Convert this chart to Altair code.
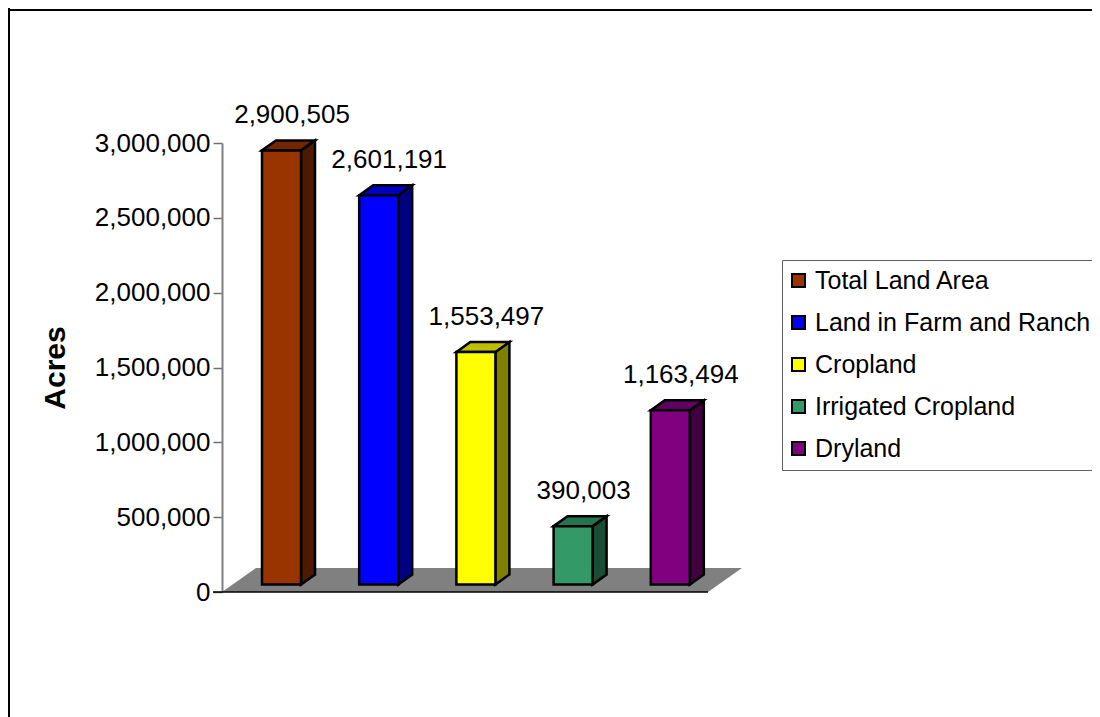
import altair as alt
import pandas as pd

categories = ["Total Land Area", "Land in Farm and Ranch", "Cropland", "Irrigated Cropland", "Dryland"]
values = [2900505, 2601191, 1553497, 390003, 1163494]
front_colors = ["#993300", "#0000FF", "#FFFF00", "#339966", "#800080"]
top_colors = ["#732600", "#0000BF", "#BFBF00", "#267350", "#600060"]
side_colors = ["#4D1A00", "#000080", "#808000", "#1A4D33", "#400040"]
tick_values = [0, 500000, 1000000, 1500000, 2000000, 2500000, 3000000]

W, H = 486, 449
Y_MAX = 3000000
SLOTS = 5
FONT = "Liberation Sans"
EDGE = 2.5
px_x = SLOTS / W          # slots per pixel
px_y = Y_MAX / H          # acres per pixel

BAR_START = 40 * px_x
BAR_W = 39 * px_x
BASE = 7.5 * px_y
DX, DY = 14 * px_x, 10 * px_y
FLOOR_DX, FLOOR_DY = 34 * px_x, 24 * px_y
LABEL_DX, LABEL_DY = 30 * px_x, 35 * px_y

xs = alt.Scale(domain=[0, SLOTS], nice=False, zero=False)
ys = alt.Scale(domain=[0, Y_MAX], nice=False)
y_axis = alt.Axis(values=tick_values, format=",.0f", grid=False, tickSize=9, title="Acres",
                  tickColor="#707070", domainColor="#808080", domainWidth=2, tickWidth=1.5,
                  labelFont=FONT, labelFontSize=26, labelColor="black", labelPadding=3,
                  titleFont=FONT, titleFontSize=30, titleFontWeight="bold", titleColor="black",
                  titlePadding=24)

front, side, top, labels = [], [], [], []
for i, (cat, v) in enumerate(zip(categories, values)):
    x0 = i + BAR_START
    x1 = x0 + BAR_W
    t = BASE + v
    front.append(dict(cat=cat, x=x0, x2=x1, y=BASE, y2=t))
    side += [
        dict(cat=cat, x=x1, y=t, y2=BASE, c=side_colors[i]),
        dict(cat=cat, x=x1 + DX, y=t + DY, y2=BASE + DY, c=side_colors[i]),
    ]
    top += [
        dict(cat=cat, x=x0, y=t, y2=t, c=top_colors[i]),
        dict(cat=cat, x=x0 + DX, y=t + DY, y2=t, c=top_colors[i]),
        dict(cat=cat, x=x1, y=t + DY, y2=t, c=top_colors[i]),
        dict(cat=cat, x=x1 + DX, y=t + DY, y2=t + DY, c=top_colors[i]),
    ]
    labels.append(dict(x=x0 + LABEL_DX, y=t + LABEL_DY, v=v))

floor = pd.DataFrame([
    dict(x=0, y=0, y2=0),
    dict(x=FLOOR_DX, y=FLOOR_DY, y2=0),
    dict(x=SLOTS, y=FLOOR_DY, y2=0),
    dict(x=SLOTS + FLOOR_DX, y=FLOOR_DY, y2=FLOOR_DY),
])
base_line = pd.DataFrame([dict(x=-9 * px_x, x2=SLOTS, y=0)])


def X():
    return alt.X("x:Q", scale=xs, axis=None)


def Y():
    return alt.Y("y:Q", scale=ys, axis=y_axis)


floor_layer = alt.Chart(floor).mark_area(fill="#808080", interpolate="linear").encode(
    X(), y=Y(), y2="y2:Q",
)
base_layer = alt.Chart(base_line).mark_rule(color="black", strokeWidth=1.5).encode(
    X(), x2="x2:Q", y=Y()
)
side_layer = alt.Chart(pd.DataFrame(side)).mark_area(stroke="black", strokeWidth=EDGE).encode(
    X(), y=Y(), y2="y2:Q", detail="cat:N",
    fill=alt.Fill("c:N", scale=None),
)
top_layer = alt.Chart(pd.DataFrame(top)).mark_area(stroke="black", strokeWidth=EDGE).encode(
    X(), y=Y(), y2="y2:Q", detail="cat:N",
    fill=alt.Fill("c:N", scale=None),
)
front_layer = alt.Chart(pd.DataFrame(front)).mark_rect(stroke="black", strokeWidth=EDGE).encode(
    X(), x2="x2:Q", y=Y(), y2="y2:Q",
    color=alt.Color("cat:N", scale=alt.Scale(domain=categories, range=front_colors),
                    legend=alt.Legend(title=None, orient="none", legendX=560, legendY=117,
                                      symbolType="square", symbolSize=169, symbolStrokeColor="black",
                                      symbolStrokeWidth=2, symbolOffset=-4,
                                      labelFont=FONT, labelFontSize=25,
                                      labelColor="black", labelOffset=4, rowPadding=16, padding=8,
                                      labelLimit=400, strokeColor="#606060", fillColor="white")),
)
label_layer = alt.Chart(pd.DataFrame(labels)).mark_text(
    font=FONT, fontSize=26, color="black", baseline="middle", align="center"
).encode(X(), y=Y(), text=alt.Text("v:Q", format=","))

frame_top = alt.Chart(pd.DataFrame([{"a": 0}])).mark_rule(color="black", strokeWidth=2).encode(
    x=alt.value(-214), x2=alt.value(900), y=alt.value(-133)
)
frame_left = alt.Chart(pd.DataFrame([{"a": 0}])).mark_rule(color="black", strokeWidth=2).encode(
    x=alt.value(-213), y=alt.value(-135), y2=alt.value(600)
)

chart = alt.layer(
    frame_top, frame_left, floor_layer, base_layer, side_layer, top_layer, front_layer, label_layer
).properties(
    width=W, height=H,
    padding={"left": 214, "top": 135, "right": 384, "bottom": 125},
    autosize=alt.AutoSizeParams(type="none"),
    background="white",
).configure_view(stroke=None)

chart.save("out.html", embed_options={"renderer": "svg", "actions": False})
